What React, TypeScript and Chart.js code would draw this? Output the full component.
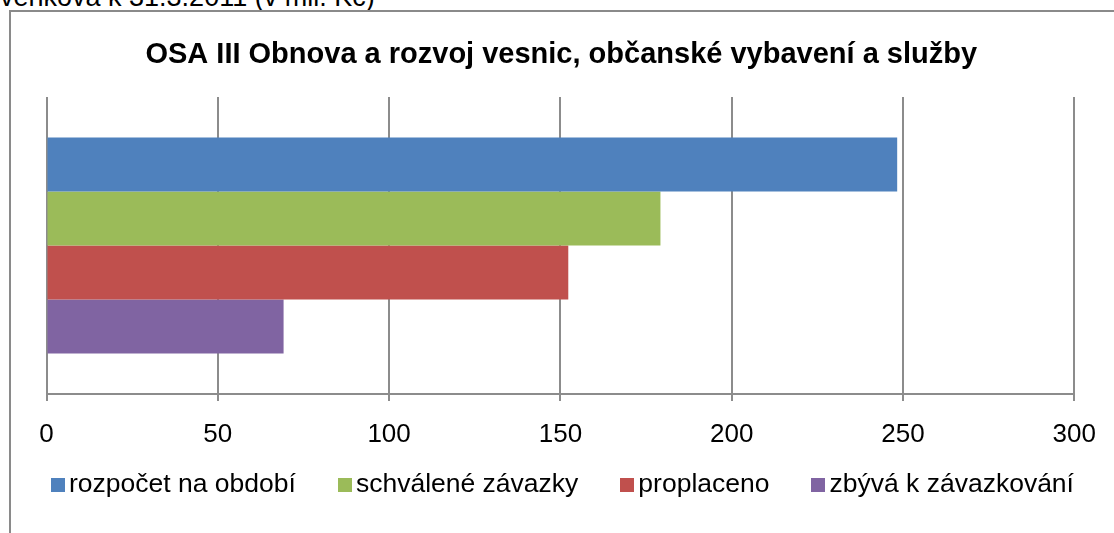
import React, { useEffect, useRef } from "react";
import { Chart, registerables } from "chart.js";

Chart.register(...registerables);

const categories = [""];
const seriesNames = [
  "rozpočet na období",
  "schválené závazky",
  "proplaceno",
  "zbývá k závazkování",
];
const rozpocetNaObdobi = [248.3];
const schvaleneZavazky = [179.2];
const proplaceno = [152.3];
const zbyvaKZavazkovani = [69.2];
const seriesValues = [rozpocetNaObdobi, schvaleneZavazky, proplaceno, zbyvaKZavazkovani];
const seriesColors = ["#4F81BD", "#9BBB59", "#C0504D", "#8064A2"];
const xMin = 0;
const xMax = 300;
const xStep = 50;
const titleText = "OSA III Obnova a rozvoj vesnic, občanské vybavení a služby";
const headerText = "venkova k 31.3.2011 (v mil. Kč)";

const FONT = "'Liberation Sans', Arial, Helvetica, sans-serif";

const legendPlugin = {
  id: "excelLegend",
  afterDraw(chart: any) {
    const ctx = chart.ctx as CanvasRenderingContext2D;
    ctx.save();
    ctx.font = `26.5px ${FONT}`;
    ctx.textBaseline = "middle";
    ctx.textAlign = "left";
    const box = 14;
    const gapBox = 4;
    const gapItem = 42;
    const items = chart.data.datasets.map((ds: any) => ({
      label: ds.label as string,
      color: ds.backgroundColor as string,
      w: ctx.measureText(ds.label).width,
    }));
    const total =
      items.reduce((s: number, it: any) => s + box + gapBox + it.w, 0) +
      gapItem * (items.length - 1);
    let x = chart.width / 2 - total / 2;
    const yMid = 473;
    for (const it of items) {
      ctx.fillStyle = it.color;
      ctx.fillRect(Math.round(x), yMid - box / 2, box, box);
      ctx.fillStyle = "#000";
      ctx.fillText(it.label, x + box + gapBox, yMid);
      x += box + gapBox + it.w + gapItem;
    }
    ctx.restore();
  },
};

export default function App() {
  const canvasRef = useRef<HTMLCanvasElement | null>(null);

  useEffect(() => {
    document.body.style.margin = "0";
    const canvas = canvasRef.current;
    if (!canvas) return;
    const chart = new Chart(canvas, {
      type: "bar",
      data: {
        labels: categories,
        datasets: seriesNames.map((name, i) => ({
          label: name,
          data: seriesValues[i],
          backgroundColor: seriesColors[i],
          borderWidth: 0,
          categoryPercentage: 0.727,
          barPercentage: 1,
        })),
      },
      options: {
        indexAxis: "y",
        responsive: false,
        animation: false,
        devicePixelRatio: 1,
        layout: { padding: { left: 35.5, right: 38, top: 0, bottom: 59 } },
        plugins: {
          legend: { display: false },
          tooltip: { enabled: false },
          title: {
            display: true,
            text: titleText,
            color: "#000",
            font: { family: FONT, size: 29, weight: "bold", lineHeight: 1.2 },
            padding: { top: 26, bottom: 24.2 },
          },
        },
        scales: {
          x: {
            type: "linear",
            min: xMin,
            max: xMax,
            position: "bottom",
            afterFit(scale: any) {
              scale.height = 80;
            },
            ticks: {
              stepSize: xStep,
              color: "#000",
              padding: 18,
              font: { family: FONT, size: 26 },
              maxRotation: 0,
            },
            grid: {
              color: "#8c8c8c",
              lineWidth: 2,
              tickLength: 7,
              drawTicks: true,
            },
            border: { display: true, color: "#8c8c8c", width: 2 },
          },
          y: {
            type: "category",
            display: false,
            grid: { display: false },
          },
        },
      },
      plugins: [legendPlugin],
    } as any);
    return () => chart.destroy();
  }, []);

  return (
    <div
      style={{
        position: "relative",
        width: 1114,
        height: 533,
        overflow: "hidden",
        background: "#fff",
      }}
    >
      <div
        style={{
          position: "absolute",
          left: 0,
          top: -16,
          fontFamily: FONT,
          fontSize: 27,
          lineHeight: "27px",
          color: "#000",
          whiteSpace: "nowrap",
        }}
      >
        {headerText}
      </div>
      <div
        style={{
          position: "absolute",
          left: 9,
          top: 10,
          width: 1107,
          height: 540,
          border: "2px solid #8a8a8a",
          boxSizing: "border-box",
        }}
      />
      <canvas
        ref={canvasRef}
        width={1103}
        height={521}
        style={{ position: "absolute", left: 11, top: 12, display: "block" }}
      />
    </div>
  );
}
